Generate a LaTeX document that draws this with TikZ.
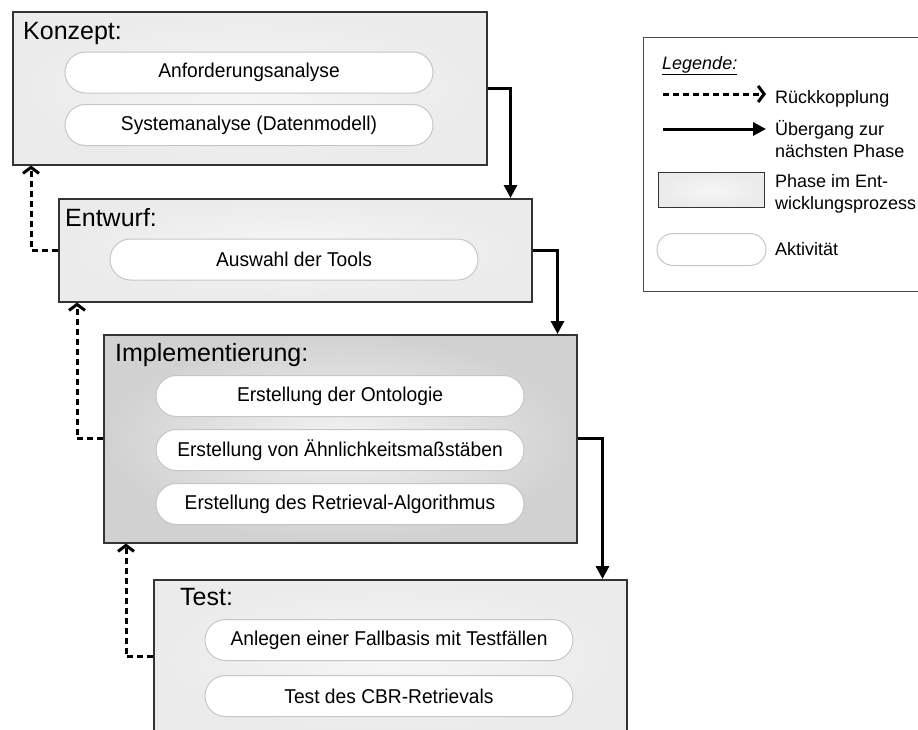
\documentclass[tikz,border=0pt]{standalone}
\usepackage{fontspec}
\setmainfont{Liberation Sans}
\newfontfamily\actfamily[FakeStretch=0.96]{Liberation Sans}
\usetikzlibrary{arrows.meta,shapes.misc}

\newcommand\phasefont{\fontsize{25}{30}\selectfont}
\newcommand\actifont{\actfamily\fontsize{20}{24}\selectfont}
\newcommand\legfont{\fontsize{18}{22}\selectfont}

\begin{document}
\begin{tikzpicture}[x=1pt,y=-1pt,
  phase/.style={draw=black!80, line width=1.5pt, inner color=gray!7, outer color=gray!16,
    anchor=north west, inner sep=0pt},
  phasedark/.style={phase, inner color=gray!10, outer color=gray!36},
  activity/.style={draw=gray!45, line width=1pt, fill=white, rounded rectangle,
    minimum width=368pt, minimum height=41pt, inner sep=0pt, font=\actifont},
  title/.style={anchor=base west, inner sep=0pt, font=\phasefont},
  legtext/.style={anchor=base west, inner sep=0pt, font=\legfont},
  next/.style={line width=3pt, -{Triangle[length=13pt,width=13pt]}},
  back/.style={line width=3pt, dash pattern=on 6pt off 4pt,
    -{Straight Barb[length=6pt,width=16pt]}},
]
\useasboundingbox (0,0) rectangle (918,729);
\fill[white] (0,0) rectangle (918,729);

% phases of the development process
\node[phase, minimum width=474pt, minimum height=153pt] (konzept) at (12,11) {};
\node[phase, minimum width=473pt, minimum height=103pt] (entwurf) at (58,198) {};
\node[phasedark, minimum width=473pt, minimum height=208pt] (impl) at (103,334) {};
\node[phase, minimum width=473pt, minimum height=154pt] (test) at (153,579) {};

\node[title] (tk) at (23,39) {Konzept:};
\node[title] (te) at (65,226) {Entwurf:};
\node[title] (ti) at (115,361) {Implementierung:};
\node[title] (tt) at (180,605) {Test:};

% activities
\node[activity] (a1) at (249,72.5) {Anforderungsanalyse};
\node[activity] (a2) at (249,125) {Systemanalyse (Datenmodell)};
\node[activity] (a3) at (294,259.5) {Auswahl der Tools};
\node[activity] (a4) at (340,396) {Erstellung der Ontologie};
\node[activity] (a5) at (340,450) {Erstellung von Ähnlichkeitsmaßstäben};
\node[activity] (a6) at (340,504) {Erstellung des Retrieval-Algorithmus};
\node[activity] (a7) at (389,640) {Anlegen einer Fallbasis mit Testfällen};
\node[activity] (a8) at (389,696) {Test des CBR-Retrievals};

% transitions to the next phase
\draw[next] (konzept.east) -| ([xshift=-22pt]entwurf.north east);
\draw[next] (entwurf.east) -| ([xshift=-20pt]impl.north east);
\draw[next] (impl.east) -| ([xshift=-25pt]test.north east);

% feedback
\draw[back] (entwurf.west) -| ([xshift=19pt]konzept.south west);
\draw[back] (impl.west) -| ([xshift=19pt]entwurf.south west);
\draw[back] (test.west) -| ([xshift=23pt]impl.south west);

% legend
\node[draw=black!70, line width=1.2pt, fill=white, anchor=north west, inner sep=0pt,
  minimum width=300pt, minimum height=254pt] (legend) at (643,37) {};
\node[legtext, font=\legfont\itshape] (lt) at (662,69) {\underline{Legende:}};
\coordinate (d1) at (663,94);
\coordinate (d2) at (766,94);
\draw[back] (d1) -- (d2);
\node[legtext] (l1) at (775,103) {Rückkopplung};
\coordinate (s1) at (663,129);
\coordinate (s2) at (766,129);
\draw[next] (s1) -- (s2);
\node[legtext] (l2) at (775,135) {Übergang zur};
\node[legtext] (l3) at (775,157) {nächsten Phase};
\node[phase, line width=1.2pt, minimum width=106pt, minimum height=35pt] (lp) at (658,172) {};
\node[legtext] (l4) at (775,187) {Phase im Ent-};
\node[legtext] (l5) at (775,209) {wicklungsprozess};
\node[activity, minimum width=109pt, minimum height=32pt] (la) at (711.5,249.5) {};
\node[legtext] (l6) at (775,255) {Aktivität};
\end{tikzpicture}
\end{document}
